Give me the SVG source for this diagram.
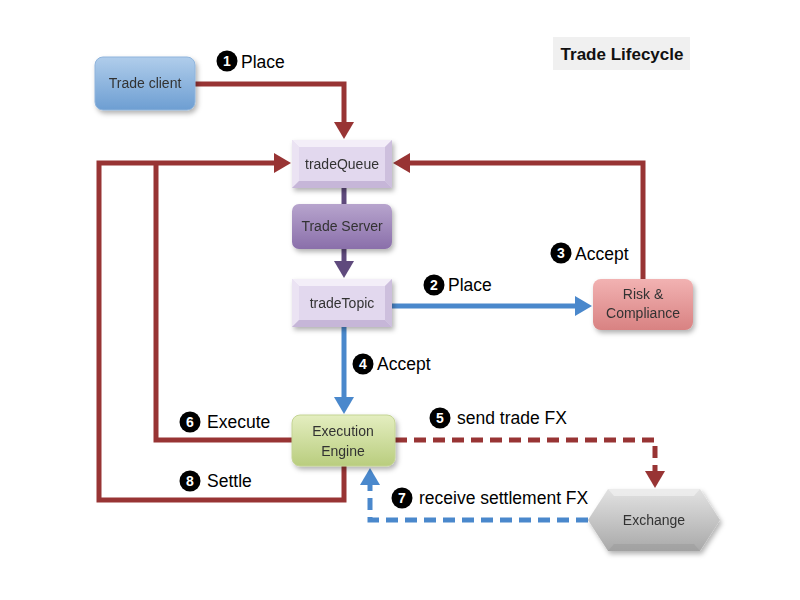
<svg xmlns="http://www.w3.org/2000/svg" width="800" height="600" viewBox="0 0 800 600">
<style>
.nt{font-family:"Liberation Sans",Arial,sans-serif;font-size:14px;fill:#333;text-anchor:middle}
.lb{font-family:"Liberation Sans",Arial,sans-serif;font-size:17.5px;fill:#000}
.num{font-family:"Liberation Sans",Arial,sans-serif;font-size:14px;font-weight:bold;fill:#fff;text-anchor:middle}
.red{fill:none;stroke:#983434;stroke-width:5}
.blue{fill:none;stroke:#4a88cc;stroke-width:5}
.pur{fill:none;stroke:#5f4a7d;stroke-width:5}
.dash{stroke-dasharray:12 7}
</style>
<defs>
<marker id="ar" markerUnits="userSpaceOnUse" markerWidth="18" markerHeight="20" refX="4" refY="10" orient="auto"><path d="M0,0 L17,10 L0,20 z" fill="#983434"/></marker>
<marker id="ab" markerUnits="userSpaceOnUse" markerWidth="18" markerHeight="20" refX="4" refY="10" orient="auto"><path d="M0,0 L17,10 L0,20 z" fill="#4a88cc"/></marker>
<marker id="ap" markerUnits="userSpaceOnUse" markerWidth="18" markerHeight="20" refX="4" refY="10" orient="auto"><path d="M0,0 L17,10 L0,20 z" fill="#5f4a7d"/></marker>
<linearGradient id="gBlue" x1="0" y1="0" x2="0" y2="1"><stop offset="0" stop-color="#b0cdeb"/><stop offset="1" stop-color="#6d9ed2"/></linearGradient>
<linearGradient id="gPur" x1="0" y1="0" x2="0" y2="1"><stop offset="0" stop-color="#b7a4cd"/><stop offset="1" stop-color="#8a6faa"/></linearGradient>
<linearGradient id="gRed" x1="0" y1="0" x2="0" y2="1"><stop offset="0" stop-color="#f2b2b2"/><stop offset="1" stop-color="#d88282"/></linearGradient>
<linearGradient id="gGrn" x1="0" y1="0" x2="0" y2="1"><stop offset="0" stop-color="#e4eec0"/><stop offset="1" stop-color="#b9cd7e"/></linearGradient>
<linearGradient id="gGry" x1="0" y1="0" x2="0" y2="1"><stop offset="0" stop-color="#e2e2e2"/><stop offset="1" stop-color="#a9a9a9"/></linearGradient>
<filter id="sh" x="-20%" y="-20%" width="150%" height="160%"><feDropShadow dx="2" dy="3" stdDeviation="2.5" flood-color="#000" flood-opacity="0.3"/></filter>
</defs>

<g id="title">
<rect x="553" y="37" width="137" height="33" fill="#f0f0f0"/>
<text x="622" y="60" font-family="'Liberation Sans',Arial,sans-serif" font-size="17" font-weight="bold" text-anchor="middle" fill="#111">Trade Lifecycle</text>
</g>

<g id="connectors">
<path class="red" d="M195,84 H344 V126" marker-end="url(#ar)"/>
<path class="red" d="M344,466 V500 H99 V163 H278" marker-end="url(#ar)"/>
<path class="red" d="M292,440 H156 V163"/>
<path class="red" d="M643,279 V163 H406" marker-end="url(#ar)"/>
<path class="pur" d="M344,188 V204"/>
<path class="pur" d="M344,249 V265" marker-end="url(#ap)"/>
<path class="blue" d="M392,306 H579" marker-end="url(#ab)"/>
<path class="blue" d="M344,327 V401" marker-end="url(#ab)"/>
<path class="red dash" d="M395,440 H655 V475" marker-end="url(#ar)"/>
<path class="blue dash" d="M588,520 H370 V481" marker-end="url(#ab)"/>
</g>

<g id="labels">
<circle cx="227" cy="61" r="10.5" fill="#000"/><text class="num" x="227" y="66">1</text><text class="lb" x="241" y="68">Place</text>
<circle cx="434" cy="285" r="10.5" fill="#000"/><text class="num" x="434" y="290">2</text><text class="lb" x="448" y="291">Place</text>
<circle cx="561" cy="253" r="10.5" fill="#000"/><text class="num" x="561" y="258">3</text><text class="lb" x="575" y="260">Accept</text>
<circle cx="363" cy="364" r="10.5" fill="#000"/><text class="num" x="363" y="369">4</text><text class="lb" x="377" y="370">Accept</text>
<circle cx="440" cy="418" r="10.5" fill="#000"/><text class="num" x="440" y="423">5</text><text class="lb" x="457" y="424">send trade FX</text>
<circle cx="190" cy="422" r="10.5" fill="#000"/><text class="num" x="190" y="427">6</text><text class="lb" x="207" y="428">Execute</text>
<circle cx="402" cy="498" r="10.5" fill="#000"/><text class="num" x="402" y="503">7</text><text class="lb" x="419" y="504">receive settlement FX</text>
<circle cx="190" cy="481" r="10.5" fill="#000"/><text class="num" x="190" y="486">8</text><text class="lb" x="207" y="487">Settle</text>
</g>

<g id="trade-client" filter="url(#sh)">
<rect x="95" y="57" width="100" height="53" rx="8" fill="url(#gBlue)" stroke="#8fb4dc" stroke-width="1"/>
<text class="nt" x="145" y="88">Trade client</text>
</g>

<g id="tradeQueue" filter="url(#sh)">
<rect x="292" y="140" width="100" height="48" fill="#e2d8ee"/>
<polygon points="292,140 392,140 385,147 299,147" fill="#f3eef8"/>
<polygon points="292,140 299,147 299,181 292,188" fill="#ebe3f3"/>
<polygon points="392,140 392,188 385,181 385,147" fill="#cdbfdd"/>
<polygon points="292,188 299,181 385,181 392,188" fill="#c6b6d8"/>
<text class="nt" x="342" y="169">tradeQueue</text>
</g>

<g id="trade-server" filter="url(#sh)">
<rect x="292" y="204" width="100" height="45" rx="7" fill="url(#gPur)"/>
<text class="nt" x="342" y="231">Trade Server</text>
</g>

<g id="tradeTopic" filter="url(#sh)">
<rect x="292" y="279" width="100" height="48" fill="#e2d8ee"/>
<polygon points="292,279 392,279 385,286 299,286" fill="#f3eef8"/>
<polygon points="292,279 299,286 299,320 292,327" fill="#ebe3f3"/>
<polygon points="392,279 392,327 385,320 385,286" fill="#cdbfdd"/>
<polygon points="292,327 299,320 385,320 392,327" fill="#c6b6d8"/>
<text class="nt" x="342" y="308">tradeTopic</text>
</g>

<g id="risk-compliance" filter="url(#sh)">
<rect x="593" y="279" width="100" height="51" rx="8" fill="url(#gRed)"/>
<text class="nt" x="643" y="299">Risk &amp;</text>
<text class="nt" x="643" y="318">Compliance</text>
</g>

<g id="execution-engine" filter="url(#sh)">
<rect x="292" y="415" width="103" height="51" rx="8" fill="url(#gGrn)" stroke="#c4d494" stroke-width="1"/>
<text class="nt" x="343" y="436">Execution</text>
<text class="nt" x="343" y="456">Engine</text>
</g>

<g id="exchange" filter="url(#sh)">
<polygon points="588,520 608,489 700,489 720,520 700,551 608,551" fill="url(#gGry)"/>
<polygon points="608,489 700,489 694,496 614,496" fill="#efefef" opacity="0.8"/>
<polygon points="608,551 700,551 694,544 614,544" fill="#999" opacity="0.5"/>
<text class="nt" x="654" y="525">Exchange</text>
</g>
</svg>
